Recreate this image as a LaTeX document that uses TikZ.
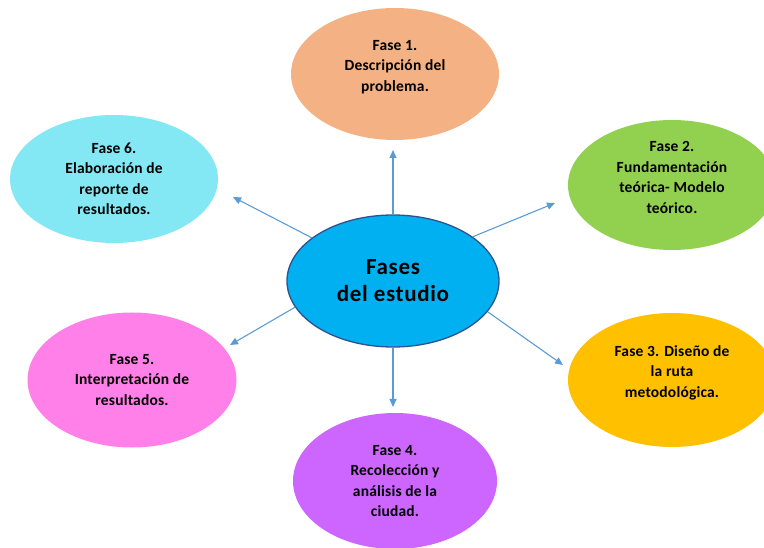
\documentclass[tikz,border=0pt]{standalone}
\usepackage{fontspec}
\setmainfont{Carlito}
\usetikzlibrary{shapes.geometric,arrows.meta}
\definecolor{cFone}{RGB}{244,177,131}
\definecolor{cFtwo}{RGB}{146,208,80}
\definecolor{cFthree}{RGB}{255,192,0}
\definecolor{cFfour}{RGB}{204,102,255}
\definecolor{cFfive}{RGB}{255,128,232}
\definecolor{cFsix}{RGB}{132,232,244}
\definecolor{cCenter}{RGB}{0,176,240}
\definecolor{cCenterLine}{RGB}{47,82,143}
\definecolor{cArrow}{RGB}{91,155,213}
\newcommand{\liftedtext}[2]{\raisebox{#1}[0pt][0pt]{\begin{tabular}{@{}c@{}}#2\end{tabular}}}
\begin{document}
\begin{tikzpicture}[x=1pt,y=-1pt,
  phase/.style={ellipse,inner sep=0pt,minimum width=208pt,minimum height=132pt,
    align=center,font=\fontsize{15.5}{20.5}\selectfont\bfseries\addfontfeature{LetterSpace=1.2}},
  hub/.style={ellipse,inner sep=0pt,minimum width=212pt,minimum height=132pt,
    fill=cCenter,draw=cCenterLine,line width=1.3pt,align=center,
    font=\fontsize{23}{27}\selectfont\bfseries\addfontfeature{LetterSpace=3}},
  arr/.style={draw=cArrow,line width=1.1pt,-{Triangle[length=8pt,width=7pt]}}]
\useasboundingbox (0,0) rectangle (764,548);
\clip (0,0) rectangle (764,548);

\node[hub] (c) at (393,281) {Fases\\del estudio};

\node[phase,fill=cFone] (f1) at (395,74) {\liftedtext{3.5pt}{Fase 1.\\Descripción del\\problema.}};
\node[phase,fill=cFtwo,minimum height=130pt] (f2) at (672,185) {\liftedtext{3pt}{Fase 2.\\Fundamentación\\teórica- Modelo\\teórico.}};
\node[phase,fill=cFthree,minimum height=134pt] (f3) at (672,380) {\liftedtext{3.5pt}{Fase 3. Diseño de\\la ruta\\metodológica.}};
\node[phase,fill=cFfour,minimum width=204pt,minimum height=136pt] (f4) at (395,481) {Fase 4.\\Recolección y\\análisis de la\\ciudad.};
\node[phase,fill=cFfive,minimum width=209pt,minimum height=135pt] (f5) at (132,380) {Fase 5.\\Interpretación de\\resultados.};
\node[phase,fill=cFsix,minimum width=208pt,minimum height=128pt] (f6) at (114,179) {Fase 6.\\Elaboración de\\reporte de\\resultados.};

\coordinate (t1) at (393,150);
\coordinate (t2) at (555,203);
\coordinate (t3) at (563,365);
\coordinate (t4) at (393,407);
\coordinate (t5) at (230,345);
\coordinate (t6) at (233,197);

\draw[arr] (c.90) -- (t1);
\draw[arr] (c.29) -- (t2);
\draw[arr] (c.-18) -- (t3);
\draw[arr] (c.-90) -- (t4);
\draw[arr] (c.195) -- (t5);
\draw[arr] (c.152) -- (t6);
\end{tikzpicture}
\end{document}
